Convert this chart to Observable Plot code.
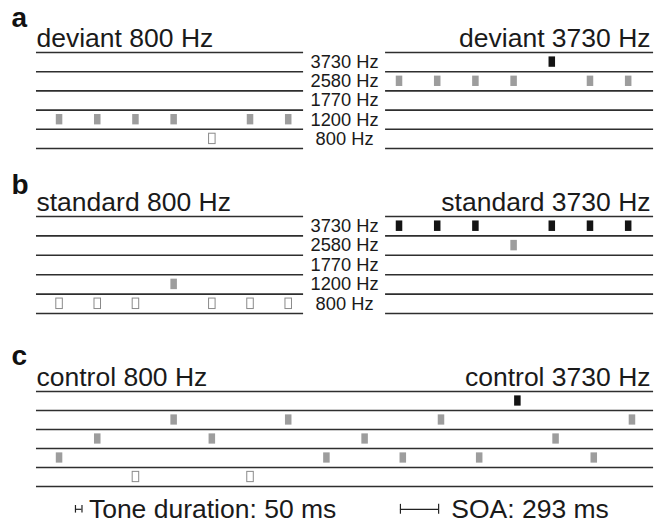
<!DOCTYPE html>
<html><head><meta charset="utf-8">
<script src="https://cdn.jsdelivr.net/npm/d3@7"></script>
<script src="https://cdn.jsdelivr.net/npm/@observablehq/plot@0.6"></script>
<style>body{margin:0;background:#fff} svg{display:block}</style>
</head><body><div id="chart"></div>
<script>
// ---- data ----
const soa = 293;                 // stimulus onset asynchrony (ms)
const toneDuration = 50;         // ms
const frequencies = [3730, 2580, 1770, 1200, 800];
const frequencyLabels = ["3730 Hz", "2580 Hz", "1770 Hz", "1200 Hz", "800 Hz"];
const panelLetters = ["a", "b", "c"];
const titlesLeft = ["deviant 800 Hz", "standard 800 Hz", "control 800 Hz"];
const titlesRight = ["deviant 3730 Hz", "standard 3730 Hz", "control 3730 Hz"];
const deviantLeft = [1200, 1200, 1200, 1200, 800, 1200, 1200];
const deviantRight = [2580, 2580, 2580, 2580, 3730, 2580, 2580];
const standardLeft = [800, 800, 800, 1200, 800, 800, 800];
const standardRight = [3730, 3730, 3730, 2580, 3730, 3730, 3730];
const controlSeq = [1200, 1770, 800, 2580, 1770, 800, 2580, 1200, 1770, 1200, 2580, 1200, 3730, 1770, 1200, 2580];
const legendTexts = [`Tone duration: ${toneDuration} ms`, `SOA: ${soa} ms`];

// ---- layout (ms along time axis) ----
const leftSpan = [-152, 1897], rightSpan = [2526, 4582], fullSpan = [-152, 4582];
const rightStart = 2608;
const labelX = (leftSpan[1] + rightSpan[0]) / 2;
const W = 655;

function tones(seq, start) {
  return seq.map((f, i) => ({t: start + i * soa, f, row: frequencies.indexOf(f)}));
}
const fillOf = f => f === 800 ? "#ffffff" : f === 3730 ? "#141414" : "#9d9d9d";
const strokeOf = f => f === 800 ? "#8a8a8a" : "none";

function panel({height, yTop, yBottom, letter, letterDy, tL, tR, segments, data, labels, legend}) {
  const rules = segments.flatMap(s => d3.range(6).map(r => ({r, x1: s[0], x2: s[1]})));
  const marks = [
    Plot.ruleY(rules, {y: "r", x1: "x1", x2: "x2", stroke: "#2e2e2e", strokeWidth: 1.6}),
    Plot.rect(data, {x1: d => d.t, x2: d => d.t + toneDuration, y1: d => d.row + 0.23, y2: d => d.row + 0.77,
      fill: d => fillOf(d.f), stroke: d => strokeOf(d.f), strokeWidth: 1}),
    Plot.text([letter], {frameAnchor: "top-left", dx: 11, dy: letterDy, lineAnchor: "bottom", fontWeight: "bold", fontSize: 28, text: d => d, fill: "#111"}),
    Plot.text([tL], {x: fullSpan[0], y: 0, text: d => d, textAnchor: "start", lineAnchor: "bottom", dy: -5.5, fontSize: 26.5, fill: "#1a1a1a"}),
    Plot.text([tR], {x: fullSpan[1], y: 0, text: d => d, textAnchor: "end", lineAnchor: "bottom", dx: -3, dy: -5.5, fontSize: 26.5, fill: "#1a1a1a"})
  ];
  if (labels) marks.push(Plot.text(frequencyLabels, {x: labelX, y: (d, i) => i + 0.5, text: d => d, textAnchor: "middle", fontSize: 18.3, fill: "#1a1a1a"}));
  if (legend) {
    const ly = 6.2;
    const hStart = 147, sStart = 2640;
    const ticks = [
      {x: hStart, h: 0.2}, {x: hStart + toneDuration, h: 0.2},
      {x: sStart, h: 0.26}, {x: sStart + soa, h: 0.26}
    ];
    marks.push(
      Plot.ruleX(ticks, {x: "x", y1: d => ly - d.h, y2: d => ly + d.h, stroke: "#222", strokeWidth: 1.2}),
      Plot.ruleY([{x1: hStart, x2: hStart + toneDuration}, {x1: sStart, x2: sStart + soa}], {y: ly, x1: "x1", x2: "x2", stroke: "#222", strokeWidth: 1.2}),
      Plot.text([legendTexts[0]], {x: 250, y: ly, text: d => d, textAnchor: "start", fontSize: 26.5, fill: "#1a1a1a"}),
      Plot.text([legendTexts[1]], {x: 3030, y: ly, text: d => d, textAnchor: "start", fontSize: 26.5, fill: "#1a1a1a"})
    );
  }
  return Plot.plot({
    width: W, height,
    marginTop: 0, marginBottom: 0, marginLeft: 0, marginRight: 0,
    style: {fontFamily: "'Liberation Sans', Arial, sans-serif", background: "#fff"},
    x: {domain: [0, 15 * soa], range: [55.8, 628.7], axis: null},
    y: {domain: [0, 5], range: [yTop, yBottom], axis: null},
    marks
  });
}

const chart = document.getElementById("chart");
chart.append(panel({height: 160, yTop: 52, yBottom: 148, letter: panelLetters[0], letterDy: 26,
  tL: titlesLeft[0], tR: titlesRight[0], segments: [leftSpan, rightSpan],
  data: [...tones(deviantLeft, 0), ...tones(deviantRight, rightStart)], labels: true}));
chart.append(panel({height: 165, yTop: 56, yBottom: 153, letter: panelLetters[1], letterDy: 33,
  tL: titlesLeft[1], tR: titlesRight[1], segments: [leftSpan, rightSpan],
  data: [...tones(standardLeft, 0), ...tones(standardRight, rightStart)], labels: true}));
chart.append(panel({height: 202, yTop: 66, yBottom: 161, letter: panelLetters[2], letterDy: 39,
  tL: titlesLeft[2], tR: titlesRight[2], segments: [fullSpan],
  data: tones(controlSeq, 0), labels: false, legend: true}));
</script></body></html>
